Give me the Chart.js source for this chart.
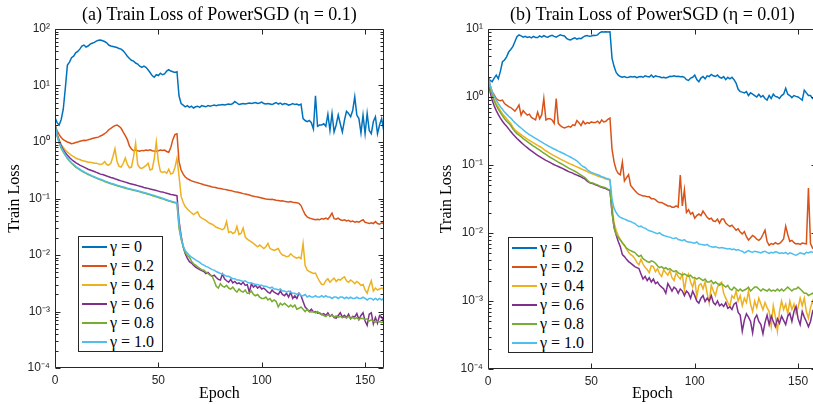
<!DOCTYPE html>
<html><head><meta charset="utf-8">
<script src="https://cdn.jsdelivr.net/npm/chart.js@4.4.1/dist/chart.umd.min.js"></script>
<style>
html,body{margin:0;padding:0;background:#fff;overflow:hidden;width:813px;height:404px;position:relative;}
canvas{position:absolute;top:0;}
.legend{position:absolute;background:#fff;border:1px solid #262626;box-sizing:border-box;width:85px;font-family:"Liberation Serif",serif;font-size:16px;color:#000;}
.legend .row{height:19px;display:flex;align-items:center;white-space:nowrap;}
.legend .sw{display:inline-block;width:25px;height:2px;margin-left:3px;margin-right:3px;}
</style></head>
<body>
<canvas id="cA" width="391" height="404" style="left:0px"></canvas>
<canvas id="cB" width="391" height="404" style="left:432px"></canvas>
<div class="legend" id="legA" style="left:78px;top:236px"></div>
<div class="legend" id="legB" style="left:508px;top:237px"></div>
<script>
const epochs = [0,1,2,3,4,5,6,7,8,9,10,11,12,13,14,15,16,17,18,19,20,21,22,23,24,25,26,27,28,29,30,31,32,33,34,35,36,37,38,39,40,41,42,43,44,45,46,47,48,49,50,51,52,53,54,55,56,57,58,59,60,61,62,63,64,65,66,67,68,69,70,71,72,73,74,75,76,77,78,79,80,81,82,83,84,85,86,87,88,89,90,91,92,93,94,95,96,97,98,99,100,101,102,103,104,105,106,107,108,109,110,111,112,113,114,115,116,117,118,119,120,121,122,123,124,125,126,127,128,129,130,131,132,133,134,135,136,137,138,139,140,141,142,143,144,145,146,147,148,149,150,151,152,153,154,155,156,157,158,159];
const seriesLabels = ['γ = 0','γ = 0.2','γ = 0.4','γ = 0.6','γ = 0.8','γ = 1.0'];
const seriesColors = ['#0072BD','#D95319','#EDB120','#7E2F8E','#77AC30','#4DBEEE'];
const xTicks = [0,50,100,150];
const xTickLabels = ['0','50','100','150'];
const yTicksA = [1e-4,1e-3,1e-2,1e-1,1,10,100];
const yTickLabelsA = ['10⁻⁴','10⁻³','10⁻²','10⁻¹','10⁰','10¹','10²'];
const yTicksB = [1e-4,1e-3,1e-2,1e-1,1,10];
const yTickLabelsB = ['10⁻⁴','10⁻³','10⁻²','10⁻¹','10⁰','10¹'];
const titleA = '(a) Train Loss of PowerSGD (η = 0.1)';
const titleB = '(b) Train Loss of PowerSGD (η = 0.01)';

// (a) eta = 0.1
const A_g00 = [2.7,2.2,2.0,2.5,3.8,9,23,26,31,33,
38,40,44,50,52,48,50,54,56,58,
61,63,64,62,60,57,52,50,49,48,
47,45,44,41,37,33,30,28,27,25,
24,22,21,22,21,19,17,15,14,15.5,
15,16.5,15.5,16,18,19,18,17.5,17,17.5,
6.5,4.8,4.5,4.2,4.4,4.1,4.3,4.0,4.2,4.3,
4.1,4.4,4.3,4.2,4.4,4.3,4.4,4.5,4.4,4.5,
4.5,4.6,4.5,4.6,4.7,4.6,4.8,5.2,4.9,4.6,
4.7,4.8,4.7,4.8,4.9,4.8,4.9,5.0,4.8,4.9,
5.1,4.8,4.7,4.8,4.7,4.6,4.8,5.0,4.7,4.9,
4.6,4.8,4.7,4.5,4.6,4.8,4.6,4.7,4.5,4.7,
2.6,2.4,2.3,2.4,2.2,1.7,6.6,1.9,2.0,2.0,
2.1,1.9,3.1,1.6,3.2,1.5,2.0,3.0,2.1,1.5,
2.4,3.5,3.2,2.8,3.6,6.3,3.0,2.6,1.45,3.0,
1.4,3.2,1.6,1.4,2.3,2.8,1.4,2.0,2.6,1.6];
const A_g02 = [2.0,1.6,1.35,1.2,1.1,1.05,1.0,0.97,0.93,0.95,
0.98,1.0,1.03,1.05,1.07,1.06,1.1,1.12,1.15,1.18,
1.2,1.22,1.28,1.33,1.4,1.5,1.65,1.75,1.85,1.95,
2.0,1.9,1.75,1.5,1.3,1.1,0.85,0.75,0.7,0.72,
0.7,0.69,0.71,0.7,0.72,0.71,0.73,0.7,0.69,0.68,
0.7,0.72,0.71,0.72,0.68,0.66,0.8,1.1,1.35,1.4,
0.45,0.32,0.27,0.24,0.225,0.215,0.205,0.2,0.195,0.19,
0.185,0.18,0.175,0.172,0.168,0.165,0.16,0.158,0.155,0.152,
0.15,0.147,0.145,0.143,0.14,0.138,0.135,0.132,0.13,0.128,
0.125,0.122,0.12,0.118,0.115,0.112,0.11,0.108,0.106,0.104,
0.102,0.1,0.098,0.097,0.096,0.097,0.095,0.093,0.092,0.09,
0.091,0.089,0.088,0.087,0.088,0.086,0.085,0.084,0.082,0.075,
0.062,0.052,0.047,0.045,0.044,0.043,0.042,0.043,0.042,0.044,
0.043,0.045,0.043,0.048,0.055,0.044,0.043,0.045,0.042,0.041,
0.042,0.04,0.041,0.039,0.04,0.038,0.039,0.038,0.04,0.042,
0.038,0.037,0.036,0.037,0.036,0.039,0.036,0.035,0.037,0.036];
const A_g04 = [2.0,1.4,1.1,0.9,0.8,0.72,0.66,0.62,0.58,0.55,
0.52,0.5,0.49,0.47,0.46,0.45,0.44,0.44,0.43,0.42,
0.42,0.41,0.40,0.41,0.45,0.40,0.39,0.42,0.55,0.76,
0.45,0.37,0.36,0.42,0.52,0.4,0.35,0.36,0.55,0.95,
0.4,0.35,0.34,0.36,0.38,0.42,0.32,0.33,0.5,1.0,
0.45,0.3,0.29,0.3,0.28,0.33,0.27,0.28,0.35,0.52,
0.25,0.11,0.085,0.072,0.065,0.06,0.056,0.052,0.055,0.058,
0.048,0.045,0.043,0.041,0.038,0.036,0.035,0.033,0.031,0.03,
0.029,0.028,0.03,0.039,0.025,0.026,0.024,0.025,0.032,0.023,
0.024,0.03,0.021,0.019,0.018,0.017,0.016,0.015,0.014,0.015,
0.014,0.013,0.014,0.016,0.013,0.0125,0.012,0.0125,0.013,0.011,
0.010,0.0098,0.0093,0.0095,0.0105,0.0097,0.0091,0.0088,0.0092,0.0086,
0.016,0.0065,0.0054,0.0051,0.0049,0.0047,0.0048,0.004,0.0034,0.003,
0.003,0.0035,0.0038,0.0033,0.0036,0.0039,0.0034,0.0037,0.0036,0.0039,
0.0041,0.0035,0.0033,0.0036,0.0034,0.0031,0.0034,0.0032,0.0029,0.003,
0.0024,0.0021,0.0028,0.0035,0.0023,0.0026,0.0024,0.0025,0.0026,0.0025];
const A_g06 = [2.0,1.35,1.05,0.85,0.73,0.65,0.58,0.53,0.49,0.46,
0.43,0.41,0.39,0.375,0.36,0.345,0.33,0.32,0.31,0.3,
0.29,0.28,0.27,0.265,0.258,0.25,0.243,0.236,0.23,0.223,
0.217,0.211,0.205,0.2,0.195,0.19,0.185,0.181,0.177,0.173,
0.169,0.165,0.161,0.157,0.154,0.151,0.147,0.144,0.141,0.138,
0.135,0.132,0.13,0.127,0.124,0.121,0.118,0.116,0.114,0.112,
0.04,0.022,0.014,0.0105,0.0088,0.0076,0.0072,0.0066,0.0061,0.0058,
0.0055,0.0053,0.0051,0.0047,0.0049,0.0045,0.0042,0.0044,0.004,0.0037,
0.0036,0.0046,0.0038,0.0035,0.0033,0.0037,0.0032,0.0034,0.0031,0.0032,
0.003,0.0033,0.0029,0.003,0.0022,0.0031,0.0027,0.0029,0.0026,0.0028,
0.0025,0.0026,0.0024,0.0022,0.0021,0.0024,0.0022,0.0021,0.002,0.0023,
0.002,0.0019,0.0021,0.0018,0.0022,0.0017,0.0019,0.0017,0.0021,0.0019,
0.0015,0.0012,0.0011,0.001,0.0011,0.00098,0.001,0.00093,0.00095,0.00088,
0.00092,0.00085,0.00095,0.00082,0.00088,0.00078,0.00076,0.00085,0.00095,0.0008,
0.00086,0.00078,0.0009,0.00074,0.00082,0.0008,0.00092,0.00072,0.00085,0.00095,
0.00068,0.00057,0.0009,0.00095,0.0006,0.00078,0.00062,0.00085,0.0008,0.00065];
const A_g08 = [2.0,1.28,0.96,0.78,0.66,0.58,0.51,0.46,0.42,0.39,
0.36,0.34,0.32,0.305,0.29,0.278,0.266,0.256,0.246,0.237,
0.229,0.221,0.214,0.207,0.2,0.194,0.188,0.183,0.178,0.173,
0.168,0.164,0.16,0.156,0.152,0.149,0.146,0.143,0.14,0.137,
0.134,0.131,0.128,0.125,0.122,0.119,0.116,0.113,0.11,0.107,
0.104,0.101,0.099,0.096,0.093,0.09,0.088,0.086,0.084,0.082,
0.03,0.019,0.014,0.011,0.0098,0.0092,0.0078,0.007,0.0066,0.0062,
0.0058,0.0055,0.0054,0.005,0.0047,0.0044,0.0042,0.0035,0.0028,0.0026,
0.0031,0.0028,0.0027,0.0029,0.0026,0.0025,0.0027,0.0024,0.0022,0.0025,
0.0023,0.0022,0.0024,0.0021,0.0021,0.0023,0.002,0.0019,0.002,0.0018,
0.0017,0.0017,0.0018,0.0016,0.0017,0.0015,0.0016,0.0015,0.0012,0.0014,
0.0013,0.0014,0.0013,0.0012,0.0013,0.0012,0.0013,0.0011,0.00114,0.0012,
0.0011,0.001,0.0011,0.001,0.00098,0.001,0.00095,0.001,0.00092,0.00088,
0.00085,0.00081,0.00088,0.00083,0.00086,0.0008,0.00084,0.00079,0.00082,0.00078,
0.0008,0.00077,0.00082,0.00075,0.00079,0.00074,0.00078,0.00072,0.00076,0.00075,
0.00072,0.00074,0.00068,0.00071,0.00067,0.00065,0.00068,0.00066,0.00064,0.00066];
const A_g10 = [2.0,1.3,0.98,0.8,0.68,0.59,0.52,0.47,0.43,0.4,
0.37,0.35,0.33,0.31,0.297,0.285,0.273,0.262,0.252,0.243,
0.234,0.226,0.219,0.212,0.205,0.199,0.193,0.187,0.182,0.177,
0.172,0.168,0.164,0.16,0.156,0.152,0.149,0.146,0.143,0.14,
0.137,0.134,0.131,0.128,0.125,0.122,0.119,0.116,0.113,0.11,
0.107,0.104,0.101,0.098,0.095,0.092,0.09,0.088,0.086,0.084,
0.035,0.02,0.0145,0.012,0.0108,0.0099,0.0092,0.0087,0.0082,0.0078,
0.0074,0.0069,0.0066,0.0063,0.0061,0.0058,0.0055,0.0054,0.0051,0.0049,
0.0047,0.0046,0.0044,0.0042,0.0042,0.004,0.0038,0.0038,0.0036,0.0036,
0.0035,0.0034,0.0035,0.0033,0.0032,0.0032,0.0031,0.003,0.003,0.0029,
0.0029,0.0028,0.0028,0.0027,0.0026,0.0027,0.0025,0.0025,0.0024,0.0025,
0.0023,0.0023,0.0022,0.0023,0.0022,0.0021,0.0021,0.002,0.0021,0.0019,
0.0019,0.002,0.0018,0.0019,0.0018,0.0018,0.0019,0.0018,0.0018,0.0019,
0.0018,0.0019,0.0018,0.0018,0.0017,0.0018,0.0018,0.0017,0.0018,0.0018,
0.0017,0.0018,0.0017,0.0018,0.0017,0.0017,0.0018,0.0017,0.0017,0.0018,
0.0017,0.0016,0.0017,0.0017,0.0016,0.0017,0.0016,0.0017,0.0016,0.0017];

// (b) eta = 0.01
const B_g00 = [2.0,1.75,1.68,1.9,2.1,1.85,2.4,3.3,3.5,3.9,
4.6,5.0,5.5,6.5,7.7,8.2,7.9,7.6,7.8,7.5,
7.7,7.4,7.8,7.5,7.5,7.9,7.6,8.0,7.7,7.6,
7.9,8.1,7.8,7.6,7.9,8.2,8.0,7.9,7.3,7.0,
6.9,7.2,7.4,7.1,7.3,7.2,7.6,7.9,8.0,7.8,
7.9,8.1,8.0,8.2,8.8,9.1,9.0,9.1,9.0,9.1,
3.7,2.8,2.3,2.1,2.0,1.95,2.0,1.93,1.95,2.0,
1.97,2.0,1.92,1.98,2.0,1.95,2.05,2.0,1.97,2.1,
1.95,2.05,2.0,1.98,1.92,1.95,1.9,1.95,2.02,2.0,
2.05,2.0,2.02,1.98,2.0,1.95,1.8,1.75,1.9,1.95,
2.1,1.8,1.68,1.9,2.0,1.85,2.05,2.0,2.15,2.05,
2.0,2.1,1.95,1.9,2.0,1.8,1.95,1.85,1.95,1.8,
1.6,1.3,1.2,1.18,1.15,1.2,1.05,1.15,1.1,1.05,
1.0,1.1,1.0,1.05,0.95,0.9,1.05,0.95,1.1,1.02,
1.0,0.95,1.05,1.1,1.34,1.1,1.05,0.98,1.05,1.02,
1.0,0.95,0.9,1.26,1.15,1.05,1.05,0.95,1.0,0.98];
const B_g02 = [2.0,1.5,1.2,1.07,0.95,0.9,0.88,0.9,0.8,0.76,
0.72,0.7,0.66,0.62,0.68,0.76,0.54,0.63,0.58,0.54,
0.56,0.5,0.48,0.46,0.6,0.48,0.55,0.95,0.46,0.48,
0.48,0.46,0.41,0.95,0.41,0.38,0.36,0.35,0.36,0.37,
0.36,0.39,0.38,0.45,0.42,0.38,0.44,0.4,0.42,0.41,
0.43,0.42,0.42,0.44,0.41,0.46,0.43,0.44,0.47,0.49,
0.17,0.11,0.085,0.075,0.072,0.11,0.058,0.065,0.072,0.05,
0.046,0.042,0.039,0.037,0.036,0.035,0.035,0.034,0.034,0.032,
0.032,0.031,0.029,0.028,0.028,0.027,0.026,0.025,0.025,0.024,
0.024,0.025,0.024,0.071,0.025,0.043,0.02,0.022,0.019,0.02,
0.0165,0.018,0.019,0.018,0.021,0.019,0.017,0.016,0.0165,0.015,
0.0148,0.016,0.014,0.016,0.016,0.014,0.0131,0.0125,0.013,0.012,
0.011,0.0115,0.0103,0.0097,0.0105,0.0088,0.0079,0.0085,0.0092,0.0088,
0.0081,0.0078,0.0083,0.0095,0.011,0.0075,0.0066,0.007,0.0068,0.0072,
0.0069,0.007,0.0075,0.0082,0.0126,0.0095,0.0075,0.0078,0.0072,0.0069,
0.007,0.0068,0.0071,0.007,0.0069,0.046,0.007,0.006,0.0058,0.006];
const B_g04 = [2.0,1.4,1.1,0.92,0.8,0.71,0.63,0.57,0.52,0.48,
0.44,0.41,0.36,0.33,0.31,0.295,0.28,0.265,0.252,0.24,
0.23,0.22,0.211,0.203,0.195,0.187,0.18,0.17,0.162,0.155,
0.148,0.142,0.137,0.132,0.127,0.122,0.118,0.114,0.11,0.106,
0.103,0.1,0.097,0.094,0.091,0.088,0.085,0.083,0.08,0.077,
0.075,0.073,0.071,0.069,0.067,0.066,0.064,0.062,0.061,0.06,
0.025,0.014,0.011,0.0092,0.008,0.0071,0.0065,0.0058,0.0052,0.0048,
0.0046,0.0042,0.0037,0.0034,0.0041,0.0035,0.0031,0.0029,0.0026,0.0033,
0.0032,0.0027,0.003,0.0025,0.0023,0.0029,0.0026,0.0024,0.0028,0.0022,
0.002,0.0026,0.0023,0.0021,0.0025,0.00144,0.0022,0.0025,0.0019,0.0016,
0.0021,0.00115,0.0017,0.0018,0.0015,0.0019,0.0013,0.00093,0.0017,0.0014,
0.0012,0.0016,0.0018,0.0019,0.0013,0.0011,0.00095,0.00083,0.0012,0.0011,
0.0014,0.001,0.0012,0.00085,0.0011,0.00095,0.0014,0.0009,0.0007,0.001,
0.0008,0.0011,0.0009,0.00074,0.00095,0.0008,0.0007,0.00042,0.00085,0.00059,
0.00036,0.0007,0.001,0.00075,0.0009,0.00065,0.001,0.00075,0.0009,0.00066,
0.0008,0.0011,0.00085,0.0011,0.0007,0.00056,0.0008,0.001,0.0008,0.0009];
const B_g06 = [2.0,1.2,0.9,0.74,0.63,0.55,0.49,0.44,0.4,0.37,
0.34,0.31,0.285,0.265,0.245,0.23,0.215,0.202,0.19,0.18,
0.17,0.161,0.153,0.146,0.139,0.133,0.127,0.122,0.117,0.113,
0.109,0.105,0.101,0.098,0.095,0.092,0.089,0.086,0.083,0.08,
0.078,0.076,0.073,0.071,0.069,0.067,0.064,0.062,0.058,0.055,
0.054,0.053,0.051,0.05,0.048,0.047,0.046,0.045,0.043,0.042,
0.02,0.012,0.0093,0.0075,0.0063,0.0048,0.0045,0.0041,0.0038,0.0036,
0.0034,0.0032,0.0031,0.003,0.0025,0.0021,0.0023,0.002,0.0022,0.0019,
0.0021,0.0018,0.0019,0.0017,0.0016,0.0015,0.0013,0.0018,0.0016,0.0014,
0.0016,0.0015,0.0013,0.0015,0.0014,0.0012,0.0014,0.0013,0.0011,0.0014,
0.0012,0.001,0.00093,0.0011,0.0012,0.00098,0.0011,0.001,0.0012,0.00095,
0.00088,0.001,0.00085,0.0009,0.00083,0.00095,0.00078,0.00082,0.00075,0.0009,
0.00095,0.00068,0.00062,0.00036,0.00052,0.00065,0.00058,0.0005,0.00034,0.00055,
0.00062,0.0005,0.00045,0.00033,0.00048,0.00062,0.00045,0.0006,0.0005,0.00042,
0.00055,0.00047,0.0006,0.00052,0.00045,0.0006,0.00066,0.0005,0.0007,0.00083,
0.00055,0.00045,0.0007,0.00058,0.0005,0.00042,0.0005,0.0007,0.0006,0.00065];
const B_g08 = [2.0,1.35,1.05,0.87,0.75,0.66,0.59,0.53,0.48,0.44,
0.41,0.38,0.34,0.31,0.29,0.275,0.26,0.245,0.233,0.221,
0.21,0.2,0.19,0.181,0.173,0.165,0.157,0.15,0.143,0.136,
0.13,0.125,0.12,0.115,0.11,0.106,0.102,0.098,0.094,0.09,
0.087,0.084,0.081,0.078,0.074,0.071,0.068,0.065,0.06,0.056,
0.055,0.054,0.052,0.051,0.049,0.048,0.047,0.046,0.044,0.043,
0.02,0.012,0.0095,0.0087,0.0079,0.0072,0.0066,0.006,0.0057,0.0055,
0.0053,0.0052,0.0048,0.0045,0.0047,0.0042,0.004,0.0038,0.0037,0.0039,
0.0038,0.0036,0.0033,0.0031,0.0032,0.003,0.0031,0.0029,0.003,0.0028,
0.0027,0.0028,0.0026,0.0025,0.0024,0.0025,0.0024,0.0023,0.0024,0.0022,
0.0022,0.0021,0.0022,0.0021,0.002,0.0021,0.0019,0.0019,0.002,0.0018,
0.0019,0.0018,0.0017,0.0018,0.0017,0.0016,0.0017,0.0015,0.00145,0.0016,
0.0015,0.0014,0.0015,0.0014,0.00145,0.0015,0.0016,0.0014,0.0015,0.0016,
0.0016,0.0015,0.0014,0.0015,0.00145,0.0014,0.0015,0.0014,0.00145,0.0014,
0.0015,0.0014,0.0015,0.0014,0.0015,0.0016,0.0015,0.0014,0.0015,0.0015,
0.0016,0.0015,0.0014,0.0013,0.0013,0.0012,0.00125,0.0013,0.0012,0.00125];
const B_g10 = [2.0,1.5,1.2,1.02,0.9,0.8,0.72,0.66,0.6,0.56,
0.52,0.49,0.45,0.42,0.395,0.37,0.35,0.33,0.31,0.295,
0.28,0.268,0.257,0.246,0.236,0.226,0.217,0.208,0.2,0.192,
0.185,0.178,0.172,0.166,0.16,0.155,0.15,0.145,0.14,0.135,
0.13,0.125,0.12,0.115,0.108,0.1,0.095,0.092,0.085,0.081,
0.078,0.076,0.074,0.072,0.07,0.067,0.066,0.064,0.063,0.061,
0.031,0.023,0.02,0.018,0.017,0.0165,0.016,0.0155,0.015,0.0148,
0.0142,0.0138,0.013,0.0124,0.0126,0.012,0.0118,0.0112,0.0108,0.0106,
0.0103,0.01,0.0098,0.0101,0.0095,0.0092,0.009,0.0088,0.0087,0.0084,
0.0083,0.0085,0.008,0.0079,0.0077,0.008,0.0075,0.0074,0.0073,0.0072,
0.0071,0.0074,0.0069,0.0068,0.0067,0.0066,0.0068,0.0064,0.0063,0.0062,
0.0063,0.0061,0.006,0.0061,0.006,0.0059,0.0058,0.0059,0.0057,0.0058,
0.0056,0.0057,0.0055,0.0054,0.0051,0.0053,0.0055,0.0053,0.0052,0.0054,
0.0053,0.0052,0.0051,0.0053,0.0054,0.0052,0.005,0.0052,0.0051,0.0053,
0.0052,0.005,0.0051,0.005,0.0052,0.0049,0.0051,0.005,0.0048,0.0047,
0.0049,0.0051,0.005,0.0049,0.0052,0.0051,0.0053,0.0052,0.0053,0.0052];

const seriesA = [A_g00,A_g02,A_g04,A_g06,A_g08,A_g10];
const seriesB = [B_g00,B_g02,B_g04,B_g06,B_g08,B_g10];

const AXIS = '#262626';
const boxPlugin = {
  id: 'matlabBox',
  afterDraw(chart) {
    const {ctx, chartArea: a, scales: {x, y}} = chart;
    const L = Math.round(a.left) + 0.5, R = Math.round(a.right) - 0.5;
    const T = Math.round(a.top) + 0.5, B = Math.round(a.bottom) - 0.5;
    ctx.save();
    ctx.strokeStyle = AXIS; ctx.lineWidth = 1;
    ctx.beginPath();
    ctx.moveTo(L, T); ctx.lineTo(R, T); ctx.lineTo(R, B); ctx.lineTo(L, B); ctx.closePath();
    const e0 = Math.round(Math.log10(y.min)), e1 = Math.round(Math.log10(y.max));
    for (let e = e0; e <= e1; e++) {
      for (let k = 1; k <= 9; k++) {
        const v = k * Math.pow(10, e);
        if (v > y.max * 1.0001) break;
        const py = Math.round(y.getPixelForValue(v)) + 0.5;
        const len = k === 1 ? 5 : 3;
        ctx.moveTo(L, py); ctx.lineTo(L + len, py);
        ctx.moveTo(R, py); ctx.lineTo(R - len, py);
      }
    }
    x.ticks.forEach(t => {
      const px = Math.round(x.getPixelForValue(t.value)) + 0.5;
      ctx.moveTo(px, B); ctx.lineTo(px, B - 5);
      ctx.moveTo(px, T); ctx.lineTo(px, T + 5);
    });
    ctx.stroke();
    ctx.restore();
  }
};

function makeChart(id, title, series, yTicks, yLabels, yMax, padRight, yWidth, xHeight) {
  const datasets = series.map((d, i) => ({
    label: seriesLabels[i], data: d, borderColor: seriesColors[i], backgroundColor: seriesColors[i],
    borderWidth: 1.5, pointRadius: 0, tension: 0, fill: false, order: series.length - 1 - i
  }));
  return new Chart(document.getElementById(id), {
    type: 'line',
    data: { labels: epochs, datasets },
    options: {
      responsive: false, animation: false, devicePixelRatio: 1,
      layout: { padding: { left: 0, right: padRight, top: 0, bottom: 0 } },
      plugins: {
        legend: { display: false }, tooltip: { enabled: false },
        title: { display: true, text: title, fullSize: false, color: '#000',
                 font: { family: 'Liberation Serif', size: 18, weight: 'normal', lineHeight: 1.2 }, padding: { top: 4, bottom: 3.4 } }
      },
      scales: {
        x: { type: 'linear', min: 0, max: 159,
             afterBuildTicks: s => { s.ticks = xTicks.map(v => ({ value: v })); },
             afterFit: s => { s.height = xHeight; },
             ticks: { autoSkip: false, maxRotation: 0, padding: 5, color: AXIS,
                      font: { family: 'Liberation Sans', size: 12 },
                      callback: (v, i) => xTickLabels[i] },
             grid: { display: false, drawTicks: false }, border: { display: false },
             title: { display: true, text: 'Epoch', color: '#000',
                      font: { family: 'Liberation Serif', size: 16 }, padding: { top: 0, bottom: 0.5 } } },
        y: { type: 'logarithmic', min: 1e-4, max: yMax,
             afterBuildTicks: s => { s.ticks = yTicks.map(v => ({ value: v })); },
             afterFit: s => { s.width = yWidth; },
             ticks: { autoSkip: false, padding: 5, color: AXIS,
                      font: { family: 'Liberation Sans', size: 12 },
                      callback: (v, i) => yLabels[i] },
             grid: { display: false, drawTicks: false }, border: { display: false },
             title: { display: true, text: 'Train Loss', color: '#000',
                      font: { family: 'Liberation Serif', size: 16 }, padding: { top: 5, bottom: 0 } } }
      }
    },
    plugins: [boxPlugin]
  });
}

makeChart('cA', titleA, seriesA, yTicksA, yTickLabelsA, 100, 7.3, 55, 36);
makeChart('cB', titleB, seriesB, yTicksB, yTickLabelsB, 10, 6.3, 56, 35);

function buildLegend(id) {
  const el = document.getElementById(id);
  seriesLabels.forEach((lab, i) => {
    const row = document.createElement('div'); row.className = 'row';
    const sw = document.createElement('span'); sw.className = 'sw'; sw.style.background = seriesColors[i];
    const tx = document.createElement('span'); tx.textContent = lab;
    row.appendChild(sw); row.appendChild(tx); el.appendChild(row);
  });
}
buildLegend('legA'); buildLegend('legB');
</script>
</body></html>
